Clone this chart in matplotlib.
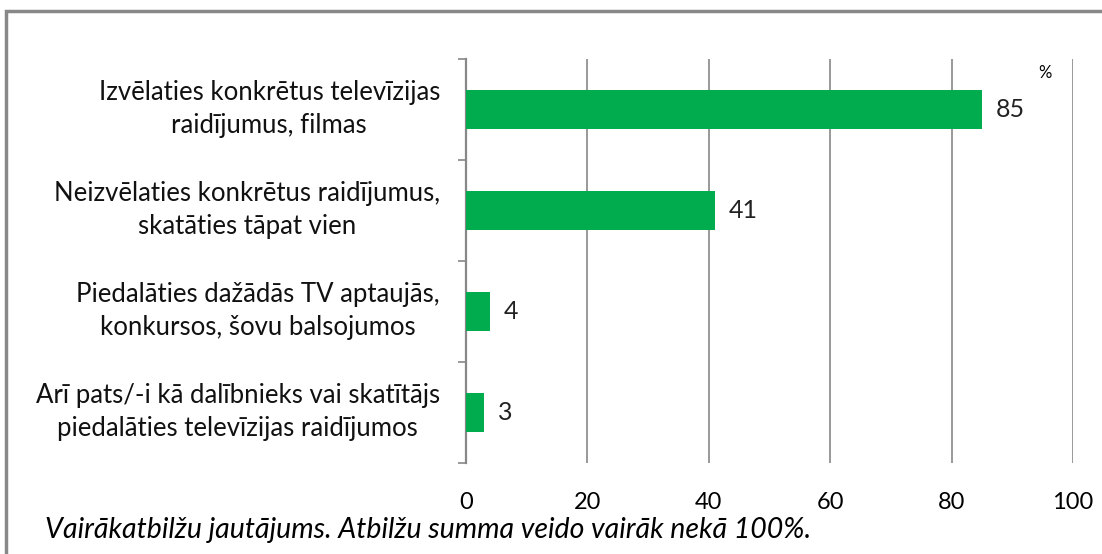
import matplotlib
matplotlib.use("Agg")
from matplotlib import pyplot as plt
from matplotlib.patches import Rectangle

categories = ["Izvēlaties konkrētus televīzijas\nraidījumus, filmas",
              "Neizvēlaties konkrētus raidījumus,\nskatāties tāpat vien",
              "Piedalāties dažādās TV aptaujās,\nkonkursos, šovu balsojumos",
              "Arī pats/-i kā dalībnieks vai skatītājs\npiedalāties televīzijas raidījumos"]
values = [85, 41, 4, 3]
xticks = [0, 20, 40, 60, 80, 100]

plt.rcParams['font.family'] = ['Lato', 'DejaVu Sans']
fig = plt.figure(figsize=(11.02, 5.54), dpi=100)
ax = fig.add_axes([0.4229, 0.1643, 0.5508, 0.7292])

pos = list(range(len(values)))
ax.barh(pos, values, height=0.38, color="#00ac4e", zorder=3)
ax.set_ylim(len(values) - 0.5, -0.5)
ax.set_xlim(0, 100)

for p, v in zip(pos, values):
    ax.annotate(str(v), (v, p), xytext=(10, 0), textcoords="offset points",
                va="center", ha="left", fontsize=18, color="#222222")

ax.set_yticks([i - 0.5 for i in range(len(values) + 1)])
ax.set_yticklabels([])
for p, c in zip(pos, categories):
    ax.text(-0.043, p, c, transform=ax.get_yaxis_transform(), ha="right",
            va="center", multialignment="center", fontsize=18.5, color="#111111",
            linespacing=1.4)
ax.tick_params(axis="y", length=6, color="#888888", width=1.2)

ax.set_xticks(xticks)
ax.set_xticklabels([str(t) for t in xticks], fontsize=17)
ax.tick_params(axis="x", length=0, pad=21)
ax.grid(axis="x", color="#888888", linewidth=1.2, zorder=0)
for s in ["top", "right", "bottom"]:
    ax.spines[s].set_visible(False)
ax.spines["left"].set_color("#888888")
ax.spines["left"].set_linewidth(1.6)

ax.text(0.954, 0.965, "%", transform=ax.transAxes, fontsize=12, ha="center", va="center")

fig.text(0.041, 0.043, "Vairākatbilžu jautājums. Atbilžu summa veido vairāk nekā 100%.",
         fontsize=20.5, style="italic", va="center", ha="left")

fig.patches.append(Rectangle((0.005, -0.1), 1.2, 1.08, transform=fig.transFigure,
                             fill=False, edgecolor="#888888", linewidth=2.5))

fig.savefig("out.png", dpi=100)
